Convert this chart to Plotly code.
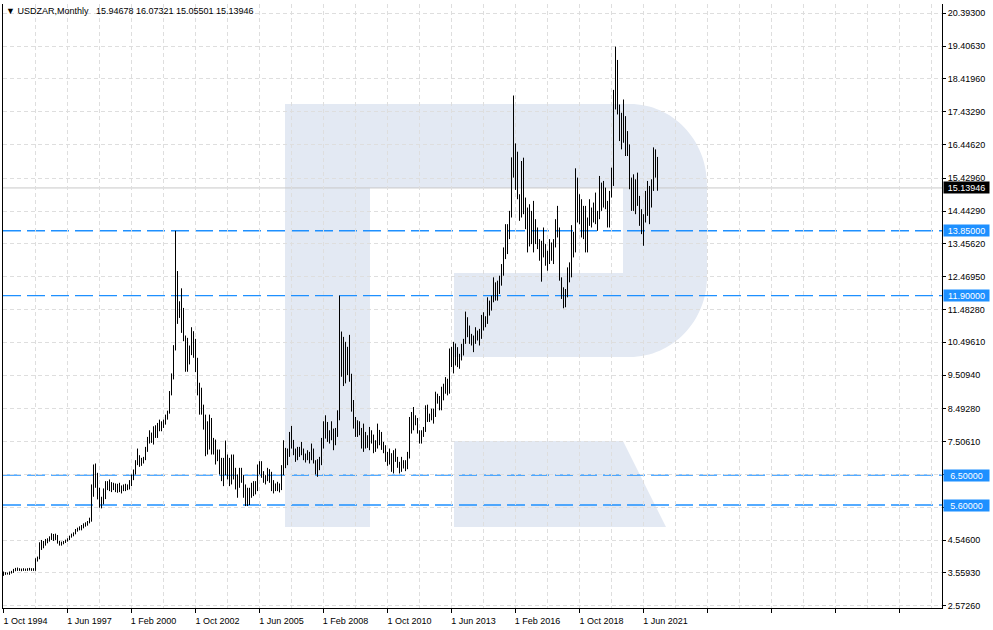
import plotly.graph_objects as go

# ---------------- data (monthly bars, first bar = 1 Oct 1994) ----------------
symbol = "USDZAR"
timeframe = "Monthly"

opens = [
    3.55, 3.55, 3.53,
    3.54, 3.56, 3.58, 3.63, 3.65, 3.66, 3.65, 3.65, 3.66, 3.65, 3.66, 3.67,
    3.66, 3.64, 3.96, 3.98, 4.35, 4.40, 4.38, 4.52, 4.52, 4.58, 4.68, 4.65,
    4.68, 4.48, 4.42, 4.45, 4.47, 4.52, 4.56, 4.64, 4.70, 4.74, 4.86, 4.88,
    4.87, 4.95, 4.98, 5.03, 5.07, 5.12, 5.90, 6.20, 6.50, 5.95, 5.60, 5.70,
    5.87, 6.20, 6.25, 6.15, 6.12, 6.22, 6.05, 6.10, 6.12, 6.05, 6.15, 6.14,
    6.15, 6.30, 6.38, 6.55, 6.85, 7.00, 6.82, 6.95, 6.97, 7.25, 7.55, 7.65,
    7.57, 7.82, 7.80, 7.98, 8.05, 8.00, 8.08, 8.25, 8.38, 8.95, 9.45, 10.30,
    11.95, 11.55, 11.45, 11.38, 10.65, 9.85, 10.35, 10.30, 10.55, 10.50, 9.75, 9.05,
    8.60, 8.55, 7.95, 7.90, 7.30, 7.70, 7.50, 7.45, 7.20, 6.95, 6.90, 6.55,
    6.60, 6.90, 6.65, 6.35, 6.70, 6.45, 6.20, 6.15, 6.50, 6.45, 6.20, 5.75,
    5.65, 5.95, 5.95, 6.20, 6.05, 6.65, 6.70, 6.60, 6.40, 6.35, 6.65, 6.60,
    6.33, 6.10, 6.15, 6.20, 6.10, 6.70, 7.20, 7.00, 7.10, 7.75, 7.40, 7.20,
    7.00, 7.25, 7.20, 7.28, 7.05, 7.10, 7.05, 7.10, 7.20, 6.90, 6.60, 6.70,
    6.85, 7.50, 7.75, 8.10, 7.60, 7.60, 7.80, 7.40, 7.65, 8.25, 9.95, 10.10,
    9.30, 10.20, 10.00, 9.55, 8.60, 8.10, 7.75, 7.80, 7.85, 7.45, 7.50, 7.40,
    7.40, 7.62, 7.65, 7.32, 7.38, 7.65, 7.67, 7.30, 7.38, 6.96, 7.00, 7.10,
    6.62, 7.20, 6.95, 6.78, 6.62, 6.85, 6.78, 6.70, 7.05, 8.05, 7.90, 8.20,
    8.10, 7.80, 7.50, 7.68, 7.82, 8.45, 8.18, 8.25, 8.45, 8.28, 8.72, 8.85,
    8.48, 8.95, 8.95, 9.20, 9.00, 10.00, 9.90, 9.90, 10.30, 10.05, 9.95, 10.35,
    10.50, 11.10, 10.70, 10.55, 10.50, 10.55, 10.65, 10.75, 10.65, 11.30, 11.05, 11.10,
    11.60, 11.65, 11.70, 12.15, 11.90, 12.15, 12.20, 12.70, 13.25, 13.85, 13.80, 14.40,
    15.50, 15.90, 15.30, 14.80, 14.30, 15.70, 14.70, 13.90, 14.40, 13.70, 13.50, 14.10,
    13.70, 13.40, 13.10, 13.40, 13.40, 13.10, 13.10, 13.20, 13.00, 13.50, 14.10, 13.70,
    12.40, 11.85, 11.80, 11.85, 12.50, 12.70, 13.70, 13.20, 14.70, 14.15, 14.75, 13.90,
    14.40, 13.25, 14.10, 14.50, 14.30, 14.60, 14.10, 14.20, 15.20, 15.15, 15.10, 14.70,
    14.00, 15.00, 15.60, 17.90, 18.50, 17.55, 17.35, 16.70, 16.95, 16.75, 16.30, 15.40,
    14.70, 15.10, 15.05, 14.80, 14.50, 13.75, 14.27, 14.60, 14.55, 15.05, 15.20, 15.95,
    15.94678,
]
highs = [
    3.60, 3.58, 3.57,
    3.60, 3.62, 3.68, 3.71, 3.72, 3.70, 3.69, 3.70, 3.69, 3.70, 3.71, 3.70,
    3.70, 4.00, 4.05, 4.48, 4.55, 4.52, 4.58, 4.60, 4.66, 4.75, 4.73, 4.74,
    4.70, 4.52, 4.50, 4.52, 4.56, 4.60, 4.68, 4.74, 4.78, 4.88, 4.92, 4.96,
    5.00, 5.05, 5.08, 5.12, 5.22, 6.22, 6.82, 6.85, 6.57, 6.12, 5.85, 6.10,
    6.32, 6.32, 6.37, 6.29, 6.27, 6.25, 6.24, 6.27, 6.19, 6.22, 6.24, 6.22,
    6.35, 6.52, 6.67, 6.95, 7.30, 7.10, 7.02, 7.05, 7.35, 7.65, 7.85, 7.78,
    7.97, 8.00, 8.07, 8.17, 8.12, 8.17, 8.32, 8.44, 9.03, 9.56, 10.41, 13.85,
    12.64, 11.73, 12.12, 11.53, 10.70, 10.63, 10.40, 10.95, 10.83, 10.60, 10.03, 9.28,
    9.13, 8.62, 8.32, 8.12, 8.32, 8.22, 7.62, 7.57, 7.27, 7.27, 7.02, 7.02,
    7.54, 7.12, 7.02, 7.12, 7.12, 6.72, 6.52, 6.72, 6.72, 6.50, 6.22, 6.12,
    6.12, 6.27, 6.32, 6.32, 6.82, 6.92, 6.92, 6.62, 6.50, 6.72, 6.68, 6.60,
    6.35, 6.25, 6.30, 6.25, 6.80, 7.55, 7.32, 7.30, 7.80, 7.98, 7.56, 7.30,
    7.35, 7.35, 7.50, 7.30, 7.15, 7.25, 7.20, 7.45, 7.30, 6.95, 6.98, 7.05,
    7.62, 8.12, 8.30, 8.10, 7.85, 8.12, 7.90, 7.92, 8.45, 11.90, 10.82, 10.66,
    10.51, 10.36, 10.72, 9.55, 8.76, 8.25, 8.15, 8.12, 7.92, 8.05, 7.80, 7.70,
    7.95, 7.85, 7.72, 7.55, 8.05, 7.86, 7.80, 7.50, 7.40, 7.20, 7.30, 7.16,
    7.25, 7.30, 7.05, 6.90, 7.05, 6.95, 6.95, 7.20, 8.25, 8.40, 8.55, 8.30,
    8.22, 7.85, 7.85, 7.95, 8.60, 8.62, 8.35, 8.50, 8.50, 9.01, 8.95, 8.88,
    9.16, 9.25, 9.45, 9.40, 10.31, 10.36, 10.51, 10.46, 10.35, 10.15, 10.45, 10.60,
    11.42, 11.25, 11.00, 10.75, 10.70, 10.95, 10.85, 10.90, 11.32, 11.40, 11.28, 11.85,
    11.75, 11.90, 12.45, 12.30, 12.35, 12.50, 12.85, 13.35, 14.05, 14.05, 14.45, 16.06,
    17.92, 16.48, 16.23, 14.95, 15.95, 16.05, 14.85, 14.55, 14.65, 14.45, 14.75, 14.20,
    13.95, 13.60, 13.55, 13.95, 13.45, 13.25, 13.60, 13.50, 13.60, 14.20, 14.60, 13.95,
    12.45, 12.15, 12.10, 12.75, 12.90, 14.02, 13.82, 15.73, 15.45, 14.95, 14.80, 14.60,
    14.60, 14.25, 14.80, 14.55, 14.70, 15.00, 14.45, 15.50, 15.30, 15.35, 15.15, 14.75,
    15.05, 15.75, 18.09, 19.39, 18.99, 17.65, 17.40, 17.80, 17.30, 16.85, 16.45, 15.45,
    15.55, 15.40, 15.60, 14.90, 14.50, 14.35, 15.05, 15.35, 15.20, 15.40, 16.36, 16.30,
    16.07321,
]
lows = [
    3.47, 3.50, 3.51,
    3.50, 3.54, 3.56, 3.61, 3.62, 3.62, 3.61, 3.62, 3.62, 3.62, 3.63, 3.62,
    3.62, 3.62, 3.90, 3.97, 4.25, 4.30, 4.38, 4.45, 4.50, 4.55, 4.52, 4.55,
    4.44, 4.38, 4.38, 4.42, 4.46, 4.50, 4.55, 4.62, 4.66, 4.72, 4.80, 4.84,
    4.84, 4.90, 4.95, 4.98, 5.05, 5.10, 5.85, 6.12, 5.77, 5.52, 5.50, 5.62,
    5.78, 6.05, 6.02, 5.99, 6.05, 5.99, 5.97, 5.99, 5.95, 6.02, 6.02, 6.05,
    6.07, 6.17, 6.35, 6.52, 6.80, 6.75, 6.78, 6.85, 6.95, 7.20, 7.45, 7.47,
    7.42, 7.62, 7.62, 7.82, 7.82, 7.92, 8.02, 8.17, 8.35, 8.90, 9.38, 10.25,
    11.05, 11.23, 10.78, 10.53, 9.61, 9.61, 9.83, 10.11, 10.03, 9.60, 8.90, 8.32,
    8.32, 7.87, 7.07, 7.12, 7.27, 7.12, 7.12, 6.82, 6.92, 6.52, 6.32, 6.17,
    6.50, 6.37, 6.17, 6.22, 6.37, 6.07, 5.82, 6.12, 6.27, 5.82, 5.57, 5.57,
    5.60, 5.82, 5.87, 5.92, 6.02, 6.52, 6.42, 6.27, 6.22, 6.32, 6.27, 6.02,
    5.95, 6.02, 6.02, 5.98, 6.05, 6.50, 6.71, 6.80, 7.05, 7.30, 7.10, 6.90,
    6.95, 7.05, 7.10, 6.95, 6.88, 6.95, 6.85, 6.95, 6.85, 6.52, 6.45, 6.65,
    6.80, 7.30, 7.60, 7.50, 7.45, 7.55, 7.25, 7.40, 7.65, 8.15, 9.46, 9.18,
    9.26, 9.51, 9.31, 8.41, 7.90, 7.65, 7.65, 7.70, 7.30, 7.20, 7.30, 7.32,
    7.25, 7.45, 7.16, 7.20, 7.30, 7.40, 7.26, 7.16, 6.90, 6.78, 6.82, 6.60,
    6.55, 6.90, 6.72, 6.55, 6.60, 6.70, 6.62, 6.68, 7.00, 7.75, 7.85, 8.00,
    7.75, 7.45, 7.45, 7.65, 7.80, 8.10, 8.10, 8.15, 8.05, 8.25, 8.65, 8.45,
    8.45, 8.75, 8.95, 8.90, 8.95, 9.75, 9.56, 9.80, 9.75, 9.70, 9.95, 10.10,
    10.45, 10.65, 10.45, 10.40, 10.20, 10.45, 10.55, 10.40, 10.60, 10.85, 10.95, 11.05,
    11.30, 11.45, 11.70, 11.75, 11.75, 11.95, 12.20, 12.50, 13.00, 13.15, 13.60, 14.25,
    15.45, 15.08, 14.80, 14.15, 14.25, 14.35, 13.90, 13.20, 13.38, 13.45, 13.20, 13.45,
    13.30, 12.95, 12.32, 13.05, 12.80, 12.65, 12.85, 12.95, 12.85, 13.35, 13.65, 12.35,
    11.80, 11.52, 11.55, 11.85, 12.30, 12.45, 13.05, 13.20, 14.10, 14.05, 13.65, 13.60,
    13.20, 13.20, 14.00, 13.95, 14.10, 14.05, 13.85, 14.20, 14.45, 14.55, 14.50, 13.95,
    13.95, 14.85, 15.20, 17.50, 17.35, 16.55, 16.30, 16.50, 16.10, 16.10, 15.10, 14.45,
    14.45, 14.35, 14.60, 14.00, 13.75, 13.40, 14.10, 14.30, 14.05, 14.55, 15.05, 15.45,
    15.05501,
]
closes = [
    3.55, 3.53, 3.54,
    3.56, 3.58, 3.63, 3.65, 3.66, 3.65, 3.65, 3.66, 3.65, 3.66, 3.67, 3.66,
    3.64, 3.96, 3.98, 4.35, 4.40, 4.38, 4.52, 4.52, 4.58, 4.68, 4.65, 4.68,
    4.48, 4.42, 4.45, 4.47, 4.52, 4.56, 4.64, 4.70, 4.74, 4.86, 4.88, 4.87,
    4.95, 4.98, 5.03, 5.07, 5.12, 5.90, 6.20, 6.50, 5.95, 5.60, 5.70, 5.87,
    6.20, 6.25, 6.15, 6.12, 6.22, 6.05, 6.10, 6.12, 6.05, 6.15, 6.14, 6.15,
    6.30, 6.38, 6.55, 6.85, 7.00, 6.82, 6.95, 6.97, 7.25, 7.55, 7.65, 7.57,
    7.82, 7.80, 7.98, 8.05, 8.00, 8.08, 8.25, 8.38, 8.95, 9.45, 10.30, 11.95,
    11.55, 11.45, 11.38, 10.65, 9.85, 10.35, 10.30, 10.55, 10.50, 9.75, 9.05, 8.60,
    8.55, 7.95, 7.90, 7.30, 7.70, 7.50, 7.45, 7.20, 6.95, 6.90, 6.55, 6.60,
    6.90, 6.65, 6.35, 6.70, 6.45, 6.20, 6.15, 6.50, 6.45, 6.20, 5.75, 5.65,
    5.95, 5.95, 6.20, 6.05, 6.65, 6.70, 6.60, 6.40, 6.35, 6.65, 6.60, 6.33,
    6.10, 6.15, 6.20, 6.10, 6.70, 7.20, 7.00, 7.10, 7.75, 7.40, 7.20, 7.00,
    7.25, 7.20, 7.28, 7.05, 7.10, 7.05, 7.10, 7.20, 6.90, 6.60, 6.70, 6.85,
    7.50, 7.75, 8.10, 7.60, 7.60, 7.80, 7.40, 7.65, 8.25, 9.95, 10.10, 9.30,
    10.20, 10.00, 9.55, 8.60, 8.10, 7.75, 7.80, 7.85, 7.45, 7.50, 7.40, 7.40,
    7.62, 7.65, 7.32, 7.38, 7.65, 7.67, 7.30, 7.38, 6.96, 7.00, 7.10, 6.62,
    7.20, 6.95, 6.78, 6.62, 6.85, 6.78, 6.70, 7.05, 8.05, 7.90, 8.20, 8.10,
    7.80, 7.50, 7.68, 7.82, 8.45, 8.18, 8.25, 8.45, 8.28, 8.72, 8.85, 8.48,
    8.95, 8.95, 9.20, 9.00, 10.00, 9.90, 9.90, 10.30, 10.05, 9.95, 10.35, 10.50,
    11.10, 10.70, 10.55, 10.50, 10.55, 10.65, 10.75, 10.65, 11.30, 11.05, 11.10, 11.60,
    11.65, 11.70, 12.15, 11.90, 12.15, 12.20, 12.70, 13.25, 13.85, 13.80, 14.40, 15.50,
    15.90, 15.30, 14.80, 14.30, 15.70, 14.70, 13.90, 14.40, 13.70, 13.50, 14.10, 13.70,
    13.40, 13.10, 13.40, 13.40, 13.10, 13.10, 13.20, 13.00, 13.50, 14.10, 13.70, 12.40,
    11.85, 11.80, 11.85, 12.50, 12.70, 13.70, 13.20, 14.70, 14.15, 14.75, 13.90, 14.40,
    13.25, 14.10, 14.50, 14.30, 14.60, 14.10, 14.20, 15.20, 15.15, 15.10, 14.70, 14.00,
    15.00, 15.60, 17.90, 18.50, 17.55, 17.35, 16.70, 16.95, 16.75, 16.30, 15.40, 14.70,
    15.10, 15.05, 14.80, 14.50, 13.75, 14.27, 14.60, 14.55, 15.05, 15.20, 15.95, 15.95,
    15.13946,
]

# month offsets (from Oct 1994) of the time-axis labels
x_tick_months = [0, 32, 64, 96, 128, 160, 192, 224, 256, 288, 320]
x_tick_labels = ["1 Oct 1994", "1 Jun 1997", "1 Feb 2000", "1 Oct 2002", "1 Jun 2005",
                 "1 Feb 2008", "1 Oct 2010", "1 Jun 2013", "1 Feb 2016", "1 Oct 2018",
                 "1 Jun 2021"]
x_blank_ticks = [352, 384, 416, 448]

# price-scale grid values; the two levels hidden under the level labels carry no text
y_tick_vals = [20.393, 19.4063, 18.4196, 17.4329, 16.4462, 15.4296, 14.4429, 13.4562,
               12.4695, 11.4828, 10.4961, 9.5094, 8.4928, 7.5061, 6.5194, 5.5327,
               4.546, 3.5593, 2.5726]
y_tick_text = ["20.39300", "19.40630", "18.41960", "17.43290", "16.44620", "15.42960",
               "14.44290", "13.45620", "12.46950", "11.48280", "10.49610", "9.50940",
               "8.49280", "7.50610", "", "", "4.54600", "3.55930", "2.57260"]

level_values = [13.85, 11.90, 6.50, 5.60]
level_labels = ["13.85000", "11.90000", "6.50000", "5.60000"]

# ---------------- figure ----------------
months = list(range(len(closes)))
FONT = "Liberation Sans, Arial, sans-serif"
W, H = 993, 630
ML, MR, MT, MB = 3, 51, 4, 22
PW, PH = W - ML - MR, H - MT - MB
GRID = "#dedede"
BLUE = "#1e90ff"

fig = go.Figure(go.Ohlc(
    x=months, open=opens, high=highs, low=lows, close=closes,
    increasing=dict(line=dict(color="black", width=1)),
    decreasing=dict(line=dict(color="black", width=1)),
    tickwidth=0, hoverinfo="skip", showlegend=False,
))


def P(X, Y):
    return f"{(X - ML) / PW:.5f},{(MT + PH - Y) / PH:.5f}"


r_body = ("M" + P(285, 104) + " L" + P(630, 104) +
          " C" + P(672.5, 104) + " " + P(707, 140) + " " + P(707, 184) +
          " L" + P(707, 277) +
          " C" + P(707, 321) + " " + P(672.5, 357) + " " + P(630, 357) +
          " L" + P(454, 357) + " L" + P(454, 273) + " L" + P(623, 273) +
          " L" + P(623, 188) + " L" + P(370, 188) + " L" + P(370, 527) +
          " L" + P(285, 527) + " Z")
r_leg = ("M" + P(454, 441) + " L" + P(623, 441) + " L" + P(666, 527) +
         " L" + P(454, 527) + " Z")

shapes = [
    dict(type="path", path=r_body, xref="paper", yref="paper",
         fillcolor="#e3e9f3", line=dict(width=0), layer="below"),
    dict(type="path", path=r_leg, xref="paper", yref="paper",
         fillcolor="#e3e9f3", line=dict(width=0), layer="below"),
    dict(type="line", xref="paper", x0=0, x1=1, yref="y", y0=closes[-1], y1=closes[-1],
         line=dict(color="#c8c8c8", width=1), layer="below"),
]
for v in level_values:
    shapes.append(dict(type="line", xref="paper", x0=0, x1=1, yref="y", y0=v, y1=v,
                       line=dict(color=BLUE, width=1.4, dash="18px,6px"), layer="below"))

annotations = []
header = (f"\u25BC {symbol},{timeframe}\u00a0\u00a0\u00a0"
          f"{opens[-1]:.5f} {highs[-1]:.5f} {lows[-1]:.5f} {closes[-1]:.5f}")
annotations.append(dict(xref="paper", x=0, xanchor="left", xshift=1,
                        yref="paper", y=1, yanchor="top", yshift=0,
                        text=header, showarrow=False, borderpad=1,
                        font=dict(family=FONT, size=9, color="black")))
for v, t in zip(level_values, level_labels):
    annotations.append(dict(xref="paper", x=1, xanchor="left", xshift=1,
                            yref="y", y=v, yanchor="middle", text=t, showarrow=False,
                            bgcolor=BLUE, borderpad=0, width=45, height=11,
                            font=dict(family=FONT, size=9, color="white")))
annotations.append(dict(xref="paper", x=1, xanchor="left", xshift=1,
                        yref="y", y=closes[-1], yanchor="middle",
                        text=f"{closes[-1]:.5f}", showarrow=False,
                        bgcolor="black", borderpad=0, width=45, height=11,
                        font=dict(family=FONT, size=9, color="white")))

fig.update_layout(
    width=W, height=H,
    margin=dict(l=ML, r=MR, t=MT, b=MB, pad=0),
    paper_bgcolor="white", plot_bgcolor="white",
    showlegend=False, dragmode=False,
    shapes=shapes, annotations=annotations,
    font=dict(family=FONT, size=9, color="black"),
)
fig.update_xaxes(
    range=[-0.25, -0.25 + PW / 2.0],
    rangeslider=dict(visible=False),
    tickmode="array",
    tickvals=x_tick_months + x_blank_ticks,
    ticktext=x_tick_labels + [""] * len(x_blank_ticks),
    ticks="outside", ticklen=4, tickcolor="black", tickwidth=1,
    ticklabelshift=22,
    tickfont=dict(family=FONT, size=9, color="black"),
    showline=True, linecolor="black", linewidth=1, mirror=False,
    showgrid=True, gridcolor=GRID, griddash="4px,3px", gridwidth=1,
    minor=dict(tickmode="linear", tick0=16, dtick=32, showgrid=True,
               gridcolor=GRID, griddash="4px,3px", ticks=""),
    zeroline=False, fixedrange=True,
)
fig.update_yaxes(
    side="right",
    range=[2.5034, 20.673],
    tickmode="array", tickvals=y_tick_vals, ticktext=y_tick_text,
    ticks="outside", ticklen=3, tickcolor="black", tickwidth=1,
    tickfont=dict(family=FONT, size=9, color="black"),
    showline=True, linecolor="black", linewidth=1, mirror=True,
    showgrid=True, gridcolor=GRID, griddash="4px,3px", gridwidth=1,
    zeroline=False, fixedrange=True,
)

fig.write_html("out.html", config={"displayModeBar": False},
               post_script="document.body.style.margin='0';")
